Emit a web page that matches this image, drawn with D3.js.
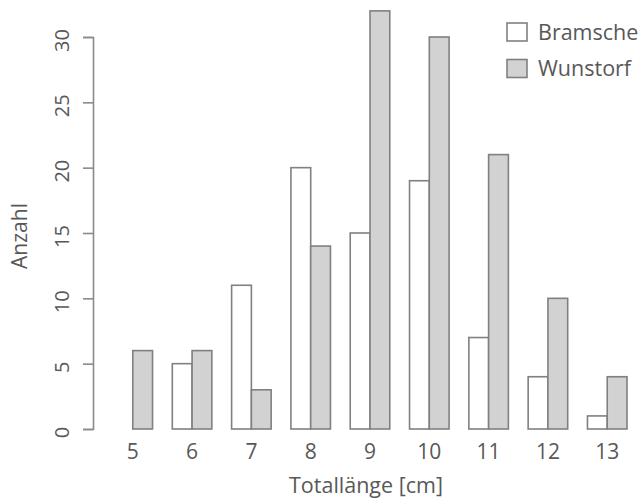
<!DOCTYPE html>
<html><head><meta charset="utf-8">
<script src="https://cdn.jsdelivr.net/npm/d3@7"></script>
<style>body{margin:0;background:#fff}svg{display:block}text{font-family:"Open Sans",sans-serif;fill:#585858}</style>
</head><body><svg id="c" width="644" height="501"></svg>
<script>
const categories = ["5","6","7","8","9","10","11","12","13"];
const seriesNames = ["Bramsche","Wunstorf"];
const bramsche = [0,5,11,20,15,19,7,4,1];
const wunstorf = [6,6,3,14,32,30,21,10,4];
const yTicks = [0,5,10,15,20,25,30];
const colors = ["#ffffff","#d2d2d2"];

const svg = d3.select("#c");
const x = d3.scaleBand().domain(categories).range([113,627]).paddingInner(1/3).paddingOuter(0);
const xs = d3.scaleBand().domain(seriesNames).range([0,x.bandwidth()]);
const y = d3.scaleLinear().domain([0,30]).range([429,37]);
const values = [bramsche, wunstorf];

const stroke = "#808080";
seriesNames.forEach((s,si)=>{
  svg.append("g").selectAll("rect").data(categories.map((c,i)=>({c,v:values[si][i]})).filter(d=>d.v>0))
    .join("rect")
    .attr("x",d=>x(d.c)+xs(s)).attr("width",xs.bandwidth())
    .attr("y",d=>y(d.v)).attr("height",d=>y(0)-y(d.v))
    .attr("fill",colors[si]).attr("stroke",stroke).attr("stroke-width",1.6);
});

// y axis
const ya = svg.append("g").attr("transform","translate(93,0)")
  .call(d3.axisLeft(y).tickValues(yTicks).tickSize(10).tickPadding(0));
ya.select(".domain").attr("stroke","#8a8a8a").attr("stroke-width",1.6);
ya.selectAll(".tick line").attr("stroke","#8a8a8a").attr("stroke-width",1.6);
ya.selectAll(".tick text").attr("transform","translate(-31,3) rotate(-90)").attr("x",0).attr("dy","0.35em")
  .attr("text-anchor","middle").style("font-size","20px").attr("fill","#585858");

// x axis labels
const xa = svg.append("g").attr("transform","translate(0,429)")
  .call(d3.axisBottom(x).tickSize(0).tickPadding(0));
xa.select(".domain").remove();
xa.selectAll(".tick text").attr("y",30).attr("dy",0).style("font-size","21px").attr("fill","#585858");

svg.append("text").attr("x",366).attr("y",493).attr("text-anchor","middle").style("font-size","21.5px").text("Totallänge [cm]");
svg.append("text").attr("transform","translate(27,236) rotate(-90)").attr("text-anchor","middle").style("font-size","21px").text("Anzahl");

// legend
const lg = svg.append("g");
seriesNames.forEach((s,i)=>{
  lg.append("rect").attr("x",507).attr("y",23+i*36.5).attr("width",20).attr("height",18)
    .attr("fill",colors[i]).attr("stroke",stroke).attr("stroke-width",1.6);
  lg.append("text").attr("x",538).attr("y",39.5+i*36.5).style("font-size","21.5px").text(s);
});
</script></body></html>
